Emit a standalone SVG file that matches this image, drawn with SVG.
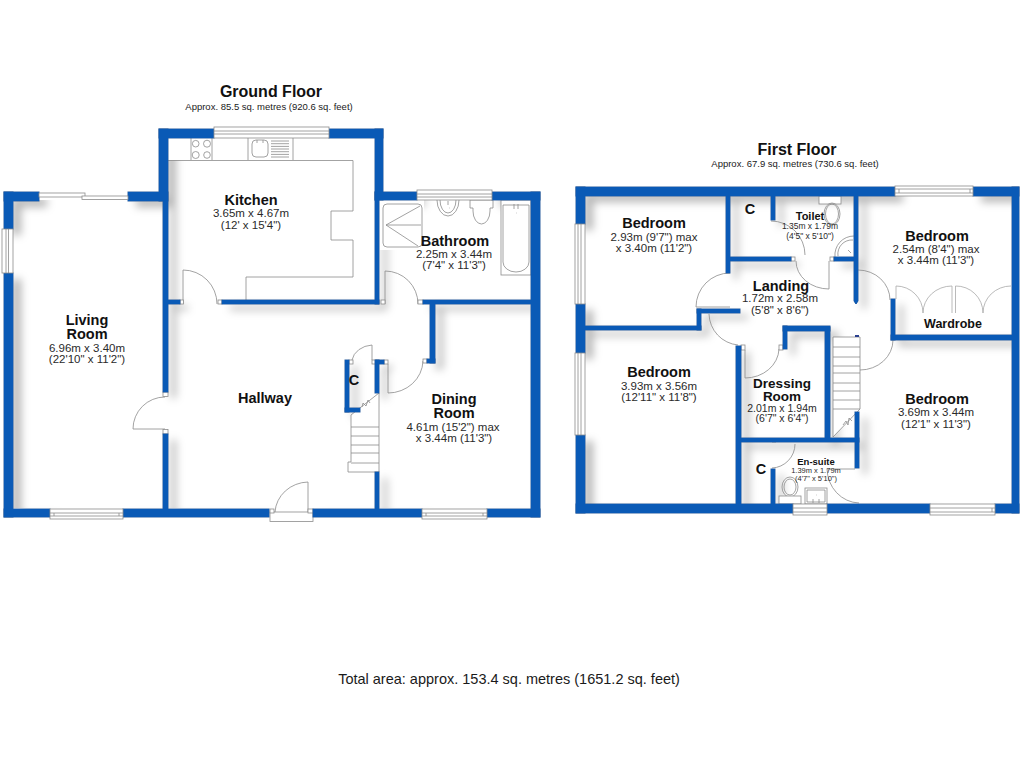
<svg xmlns="http://www.w3.org/2000/svg" width="1024" height="768" viewBox="0 0 1024 768">
<style>
text{font-family:"Liberation Sans",Arial,sans-serif;text-anchor:middle;fill:#1a1a1a}
.h1{font-size:16px;font-weight:bold;fill:#111}
.sub{font-size:9.5px}
.n{font-size:14.500px;font-weight:bold;fill:#111}
.d{font-size:11.5px;fill:#2a2a2a}
.f{fill:none;stroke:#8c8c8c;stroke-width:.8}
.fw{fill:#fff;stroke:#8c8c8c;stroke-width:.8}
.g{fill:none;stroke:#a8a8a8;stroke-width:.8}
.wall{fill:#0a5ab6}
.edge{stroke:#2c5f9e;stroke-width:1}
</style>
<defs>
<filter id="sh" x="-5%" y="-5%" width="110%" height="110%">
<feGaussianBlur stdDeviation="4"/>
<feOffset dx="8" dy="6"/>
<feColorMatrix type="matrix" values="0 0 0 0 .5 0 0 0 0 .5 0 0 0 0 .5 0 0 0 1.100 0"/>
</filter>
<clipPath id="gclip"><path d="M13 200H168V138H375V200H531V508H13Z"/></clipPath>
<clipPath id="fclip"><path d="M585 196H1012V504H585Z"/></clipPath>
<g id="gw">
<rect x="4" y="192" width="35" height="9"/>
<rect x="128" y="192" width="36" height="9"/>
<rect x="4" y="192" width="9" height="37"/>
<rect x="4" y="273" width="9" height="244"/>
<rect x="159" y="129" width="9" height="72"/>
<rect x="159" y="129" width="55" height="9"/>
<rect x="329" y="129" width="54" height="9"/>
<rect x="375" y="129" width="8" height="71"/>
<rect x="375" y="192" width="42" height="8"/>
<rect x="492" y="192" width="48" height="8"/>
<rect x="531" y="192" width="9" height="325"/>
<rect x="4" y="509" width="46" height="8"/>
<rect x="123" y="509" width="146" height="8"/>
<rect x="313" y="509" width="109" height="8"/>
<rect x="487" y="509" width="53" height="8"/>
<rect x="163" y="192" width="5" height="200"/>
<rect x="163" y="434" width="5" height="75"/>
<rect x="168" y="300" width="12" height="4"/>
<rect x="222" y="300" width="157" height="4"/>
<rect x="375" y="192" width="4" height="112"/>
<rect x="423" y="300" width="108" height="4"/>
<rect x="430" y="304" width="5" height="59"/>
<rect x="427" y="359" width="8" height="4"/>
<rect x="376" y="360" width="8" height="4"/>
<rect x="375" y="360" width="4" height="33"/>
<rect x="375" y="472" width="4" height="37"/>
<rect x="345" y="360" width="4" height="52"/>
<rect x="345" y="408" width="15" height="4"/>
</g>
<g id="fw">
<rect x="576" y="187" width="319" height="9"/>
<rect x="973" y="187" width="46" height="9"/>
<rect x="576" y="187" width="9" height="37"/>
<rect x="576" y="304" width="9" height="49"/>
<rect x="576" y="435" width="9" height="78"/>
<rect x="1012" y="187" width="7" height="326"/>
<rect x="576" y="504" width="217" height="9"/>
<rect x="827" y="504" width="103" height="9"/>
<rect x="995" y="504" width="24" height="9"/>
<rect x="726" y="196" width="4" height="77"/>
<rect x="771" y="196" width="4" height="24"/>
<rect x="730" y="257" width="61" height="4"/>
<rect x="834" y="257" width="20" height="4"/>
<path d="M854 196H858V301L856 304L854 301Z"/>
<rect x="585" y="326" width="116" height="4"/>
<rect x="697" y="309" width="4" height="21"/>
<rect x="697" y="309" width="43" height="4"/>
<rect x="736" y="346" width="5" height="158"/>
<rect x="741" y="438" width="118" height="4"/>
<rect x="825" y="327" width="5" height="111"/>
<rect x="783" y="326" width="47" height="5"/>
<rect x="783" y="326" width="4" height="23"/>
<rect x="855" y="412" width="4" height="56"/>
<rect x="771" y="469" width="4" height="35"/>
<rect x="891" y="299" width="4" height="41"/>
<rect x="891" y="335" width="121" height="5"/>
</g>
</defs>
<rect width="1024" height="768" fill="#fff"/>

<g id="shadows">
<use href="#gw" filter="url(#sh)" clip-path="url(#gclip)"/>
<use href="#fw" filter="url(#sh)" clip-path="url(#fclip)"/>
</g>

<g id="ground-fixtures">
<path d="M168 138H375V160H168Z" fill="#fff"/>
<path class="f" d="M168 160.500H353V211H331V240H353V277H246V300"/>
<path class="f" d="M191 138V160M212 138V160M248 138V160M293 138V160"/>
<g class="f"><circle cx="195.700" cy="143.700" r="3.300"/><circle cx="207" cy="143.700" r="3.500"/><circle cx="195.700" cy="155" r="3.500"/><circle cx="207" cy="155" r="3.300"/>
<rect x="252" y="140" width="16" height="17" rx="4"/>
<path d="M257 140V143M263 140V143M271 141H289M271 143.700H289M271 146.400H289M271 149H289M271 151.700H289M271 154.400H289M271 157H289"/></g>
<path class="f" d="M183 304V270A34 34 0 0 1 217 304"/>
<rect class="fw" x="180" y="300" width="3.500" height="4"/><rect class="fw" x="218" y="300" width="4" height="4"/>
<rect x="380" y="200" width="44" height="50" fill="#fff"/>
<rect class="f" x="383" y="204" width="39" height="43" rx="4"/>
<path class="f" d="M386 225L420 206M386 225H421M386 225L418 246"/>
<path class="f" d="M437 200A11 16 0 0 0 459 200M440 200A8 13 0 0 0 456 200M448 201V205M449 208h.5"/>
<path class="fw" d="M470 200H493V208H490V211A8.500 13 0 1 1 473 211V208H470Z"/>
<rect class="fw" x="501" y="200" width="30" height="75"/>
<path class="f" d="M503 205H529V262A13 10 0 0 1 503 262Z"/>
<path class="f" d="M514 204V209M518 204V209M516 213h.5"/>
<path class="f" d="M385 304V271A33 33 0 0 1 418 304"/>
<rect class="fw" x="381" y="300" width="4" height="4"/><rect class="fw" x="418" y="300" width="5" height="4"/>
<path class="f" d="M388 364V393A35 33 0 0 0 423 361"/>
<rect class="fw" x="423" y="359" width="4" height="4"/><rect class="fw" x="384" y="360" width="4" height="4"/>
<path class="f" d="M165 397A32 32 0 0 0 133 429H165"/>
<rect class="fw" x="163" y="392" width="5" height="4.500"/><rect class="fw" x="163" y="429.500" width="5" height="4.500"/>
<path class="f" d="M352 360A22 18 0 0 1 372 345V360"/>
<rect class="fw" x="349" y="360" width="4" height="4"/><rect class="fw" x="372" y="360" width="4" height="4"/>
<path class="fw" d="M351 415L379 393V472H348V462H351Z"/>
<path class="f" d="M351 427H379M351 436H379M351 445H379M351 453H379M351 463H379M362 407L363 403L366 406L368 400L370 403"/>
<rect class="fw" x="270" y="512" width="43" height="9.500"/>
<path class="f" d="M308 512V482A34 32 0 0 0 275 512"/>
<rect class="fw" x="270" y="509" width="4" height="4"/><rect class="fw" x="308" y="509" width="5" height="4"/>
</g>

<g id="first-fixtures">
<rect class="fw" x="819" y="196" width="22" height="8"/>
<ellipse class="f" cx="832" cy="214" rx="6.500" ry="10"/><ellipse class="f" cx="832" cy="214" rx="8" ry="11"/>
<path class="f" d="M835 257A19 19 0 0 1 854 236M838 256A14 14 0 0 1 853 240M848 250l3 3"/>
<path class="f" d="M771 221A34 34 0 0 1 805 255"/>
<path class="f" d="M796 261A33 28 0 0 0 829 289V261"/>
<rect class="fw" x="791" y="257" width="4" height="4"/><rect class="fw" x="830" y="257" width="4" height="4"/>
<path class="f" d="M730 273A34 34 0 0 0 696 307H730"/>
<path class="f" d="M709 314A32 32 0 0 0 738 345"/>
<rect class="fw" x="741" y="345" width="4" height="5"/>
<path class="f" d="M745 350V378A34 30 0 0 0 779 349"/>
<rect class="fw" x="779" y="345" width="4" height="5"/>
<path class="fw" d="M833 337H860V409L833 437Z"/>
<path class="f" d="M833 347H860M833 357H860M833 366H860M833 373H860M833 383H860M833 391H860M833 400H860M833 409H860"/>
<path class="f" d="M843 425L846 421L848 425L849 418L852 421"/>
<rect x="855" y="335" width="4" height="2" fill="#2a3f8f"/>
<path class="f" d="M858 270A32 30 0 0 1 890 300"/>
<path class="f" d="M893 340A33 30 0 0 1 860 370"/>
<path class="g" d="M896 286V299M896 286A27 27 0 0 1 923 313M952 286A29 27 0 0 0 923 313M952 286V313M955.500 286V313M955.500 286A27 27 0 0 1 983 313M1011 286A28 27 0 0 0 983 313"/>
<path class="f" d="M772 442H776M795 444A24 24 0 0 1 772 468"/>
<path class="f" d="M855 469H827A33 35 0 0 0 859 503"/>
<ellipse class="f" cx="790" cy="487" rx="8" ry="10"/>
<ellipse class="f" cx="790" cy="487" rx="6" ry="8"/>
<rect class="fw" x="779" y="496" width="22" height="8"/>
<rect class="f" x="805" y="488" width="22" height="16"/>
<path class="f" d="M807 490H825V502H807ZM813 499V503M819 499V503M816 495h.5"/>
</g>

<g id="walls">
<use href="#gw" class="wall edge"/><use href="#fw" class="wall edge"/>
<use href="#gw" class="wall"/><use href="#fw" class="wall"/>
</g>

<g id="windows">
<g class="fw">
<rect x="39" y="193" width="46" height="4"/><rect x="82" y="196" width="46" height="3.500"/>
<rect x="2" y="229" width="11" height="44"/><path d="M6 229V273M8.500 229V273"/>
<rect x="214" y="127" width="115" height="11"/><path d="M214 131H329M214 134H329"/>
<rect x="417" y="190" width="75" height="10"/><path d="M417 194H492M417 197H492"/>
<rect x="50" y="509" width="73" height="10"/><path d="M50 513H123M50 516H123M54 513V516M119 513V516"/>
<rect x="422" y="509" width="65" height="10"/><path d="M422 513H487M422 516H487M426 513V516M483 513V516"/>
<rect x="895" y="186" width="78" height="10"/><path d="M895 189H973M895 193H973M899 189V193M970 189V193"/>
<rect x="575" y="224" width="10" height="80"/><path d="M578 224V304M581 224V304"/>
<rect x="575" y="353" width="10" height="82"/><path d="M578 353V435M581 353V435"/>
<rect x="930" y="504" width="65" height="11"/><path d="M930 508H995M930 512H995M992 508V512"/>
<rect x="793" y="504" width="34" height="11"/><path d="M793 508H827M793 512H827"/>
</g>
</g>

<g id="ground-floor-title"><text class="h1" x="271" y="97">Ground Floor</text><text class="sub" x="269" y="110">Approx. 85.5 sq. metres (920.6 sq. feet)</text></g>
<g id="first-floor-title"><text class="h1" x="797" y="155">First Floor</text><text class="sub" x="795" y="167">Approx. 67.9 sq. metres (730.6 sq. feet)</text></g>

<g id="kitchen"><text class="n" x="251" y="205">Kitchen</text><text class="d" x="251" y="217">3.65m x 4.67m</text><text class="d" x="251" y="229">(12' x 15'4")</text></g>
<g id="bathroom"><text class="n" x="455" y="246">Bathroom</text><text class="d" x="454" y="258">2.25m x 3.44m</text><text class="d" x="454" y="269">(7'4" x 11'3")</text></g>
<g id="living-room"><text class="n" x="87" y="325">Living</text><text class="n" x="87" y="339">Room</text><text class="d" x="87" y="352">6.96m x 3.40m</text><text class="d" x="87" y="363">(22'10" x 11'2")</text></g>
<g id="hallway"><text class="n" x="265" y="403">Hallway</text></g>
<g id="cupboard-g"><text class="n" x="354" y="385">C</text></g>
<g id="dining-room"><text class="n" x="454" y="404">Dining</text><text class="n" x="454" y="418">Room</text><text class="d" x="453" y="431">4.61m (15'2") max</text><text class="d" x="454" y="442">x 3.44m (11'3")</text></g>
<g id="bedroom-1"><text class="n" x="654" y="228">Bedroom</text><text class="d" x="654" y="241">2.93m (9'7") max</text><text class="d" x="654" y="252">x 3.40m (11'2")</text></g>
<g id="bedroom-2"><text class="n" x="659" y="377">Bedroom</text><text class="d" x="659" y="390">3.93m x 3.56m</text><text class="d" x="659" y="401">(12'11" x 11'8")</text></g>
<g id="bedroom-3"><text class="n" x="937" y="241">Bedroom</text><text class="d" x="936" y="253">2.54m (8'4") max</text><text class="d" x="936" y="264">x 3.44m (11'3")</text></g>
<g id="wardrobe"><text class="n" x="953" y="328" style="font-size:12.500px">Wardrobe</text></g>
<g id="bedroom-4"><text class="n" x="937" y="404">Bedroom</text><text class="d" x="936" y="416">3.69m x 3.44m</text><text class="d" x="936" y="428">(12'1" x 11'3")</text></g>
<g id="toilet"><text class="n" x="810" y="220" style="font-size:11px">Toilet</text><text class="d" x="810" y="229" style="font-size:8.500px">1.35m x 1.79m</text><text class="d" x="810" y="239" style="font-size:8.500px">(4'5" x 5'10")</text></g>
<g id="cupboard-t"><text class="n" x="750" y="214">C</text></g>
<g id="landing"><text class="n" x="781" y="291">Landing</text><text class="d" x="780" y="302">1.72m x 2.58m</text><text class="d" x="780" y="314">(5'8" x 8'6")</text></g>
<g id="dressing-room"><text class="n" x="782" y="388" style="font-size:13.500px">Dressing</text><text class="n" x="782" y="401" style="font-size:13.500px">Room</text><text class="d" x="782" y="412" style="font-size:10.500px">2.01m x 1.94m</text><text class="d" x="782" y="422" style="font-size:10.500px">(6'7" x 6'4")</text></g>
<g id="en-suite"><text class="n" x="816" y="465" style="font-size:9.500px">En-suite</text><text class="d" x="816" y="473" style="font-size:7.500px">1.39m x 1.79m</text><text class="d" x="816" y="481" style="font-size:7.500px">(4'7" x 5'10")</text></g>
<g id="cupboard-e"><text class="n" x="761" y="474">C</text></g>
<g id="total"><text x="509" y="684" style="font-size:14.500px">Total area: approx. 153.4 sq. metres (1651.2 sq. feet)</text></g>
</svg>
